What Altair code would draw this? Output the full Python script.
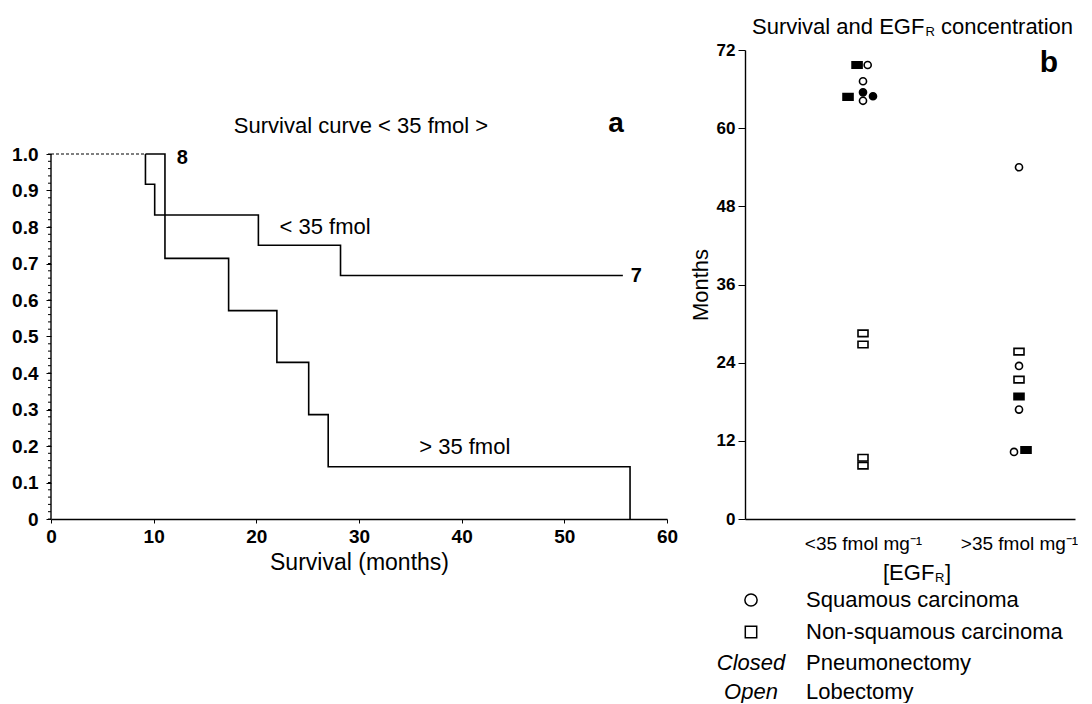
import altair as alt
import pandas as pd

FONT = "Liberation Sans"

# ---------------- Panel a: survival curves ----------------
pre_t = [0.0, 9.2]
pre_s = [1.0, 1.0]
low_t = [9.2, 9.2, 10.1, 20.2, 28.2, 55.7]
low_s = [1.0, 0.917, 0.833, 0.75, 0.667, 0.667]
high_t = [9.2, 11.1, 17.3, 22.0, 25.1, 27.0, 56.4, 56.4]
high_s = [1.0, 0.714, 0.571, 0.429, 0.286, 0.143, 0.143, 0.0]
y_major = [0.0, 0.1, 0.2, 0.3, 0.4, 0.5, 0.6, 0.7, 0.8, 0.9, 1.0]
y_minor = [round(i * 0.02, 2) for i in range(51)]
x_ticks_a = [0, 10, 20, 30, 40, 50, 60]

# ---------------- Panel b: survival vs EGFR ----------------
b_x = [0.962, 1.03, 1.0, 1.0, 0.904, 1.064, 1.0, 1.0, 1.0, 1.0, 1.0,
       2.0, 2.0, 2.0, 2.0, 2.0, 2.0, 1.968, 2.045]
b_months = [69.7, 69.7, 67.2, 65.5, 64.8, 64.9, 64.2, 28.5, 26.8, 9.4, 8.2,
            54.0, 25.7, 23.5, 21.4, 18.8, 16.8, 10.3, 10.6]
b_hist = ["N", "S", "S", "S", "N", "S", "S", "N", "N", "N", "N",
          "S", "N", "S", "N", "N", "S", "S", "N"]
b_surg = ["C", "O", "O", "C", "C", "C", "O", "O", "O", "O", "O",
          "O", "O", "O", "O", "C", "O", "O", "C"]
x_labels_b = ["<35 fmol mg\u207b\u00b9", ">35 fmol mg\u207b\u00b9"]
y_ticks_b = [0, 12, 24, 36, 48, 60, 72]
hist_names = {"S": "Squamous carcinoma", "N": "Non-squamous carcinoma"}
surg_names = {"C": "Pneumonectomy", "O": "Lobectomy"}

W_A, H = 616, 469
W_B = 330

one = pd.DataFrame({"k": [0]})

pre_df = pd.DataFrame({"t": pre_t, "s": pre_s})
low_df = pd.DataFrame({"t": low_t, "s": low_s, "i": list(range(len(low_t)))})
high_df = pd.DataFrame({"t": high_t, "s": high_s, "i": list(range(len(high_t)))})

xa = alt.Scale(domain=[0, 60], nice=False)
ya = alt.Scale(domain=[0, H / 365.0], nice=False)

x_axis_a = alt.Axis(values=x_ticks_a, tickSize=4, labelPadding=4, labelFontSize=19,
                    labelFontWeight="bold", labelColor="black", tickColor="black",
                    domainColor="black", domainWidth=1.4, grid=False,
                    title="Survival (months)", titleFontSize=23, titleFontWeight="normal",
                    titleColor="black", titlePadding=5, labelFlush=False)
y_axis_a = alt.Axis(values=y_major, labelExpr="datum.value == 0 ? '0' : format(datum.value, '.1f')",
                    domain=False, tickSize=5, tickColor="black", labelFontSize=19,
                    labelFontWeight="bold", labelColor="black", labelPadding=8,
                    grid=False, title=None)

low_line = alt.Chart(low_df).mark_line(interpolate="step-after", color="black", strokeWidth=1.6).encode(
    x=alt.X("t:Q", scale=xa, axis=x_axis_a),
    y=alt.Y("s:Q", scale=ya, axis=y_axis_a),
    order="i:Q",
)
high_line = alt.Chart(high_df).mark_line(interpolate="step-after", color="black", strokeWidth=1.6).encode(
    x=alt.X("t:Q", scale=xa), y=alt.Y("s:Q", scale=ya), order="i:Q"
)
pre_line = alt.Chart(pre_df).mark_line(color="black", strokeWidth=1.2, strokeDash=[3, 2]).encode(
    x=alt.X("t:Q", scale=xa), y=alt.Y("s:Q", scale=ya)
)
y_line = alt.Chart(one).mark_rule(color="black", strokeWidth=1.4).encode(
    x=alt.value(0), y=alt.datum(0.0, scale=ya), y2=alt.datum(1.0)
)
minor = alt.Chart(pd.DataFrame({"v": y_minor})).mark_rule(color="black", strokeWidth=1).encode(
    y=alt.Y("v:Q", scale=ya), x=alt.value(-3), x2=alt.value(0)
)

def txt(text, x, y, size=22, weight="normal", align="center", style="normal", dy=0):
    return alt.Chart(one).mark_text(text=text, fontSize=size, fontWeight=weight, align=align,
                                    baseline="middle", font=FONT, fontStyle=style, color="black",
                                    dy=dy).encode(x=x, y=y)

lab8 = txt("8", alt.datum(12.8), alt.datum(0.99), size=20, weight="bold")
lab7 = txt("7", alt.datum(57.0), alt.datum(0.667), size=20, weight="bold")
lab_low = txt("< 35 fmol", alt.datum(26.7), alt.datum(0.80))
lab_high = txt("> 35 fmol", alt.datum(40.3), alt.datum(0.197))
title_a = txt("Survival curve < 35 fmol >", alt.value(310), alt.value(76))
letter_a = txt("a", alt.value(565), alt.value(74), size=28, weight="bold")

panel_a = alt.layer(pre_line, low_line, high_line, y_line, minor,
                    lab8, lab7, lab_low, lab_high, title_a, letter_a).properties(width=W_A, height=H)

# ---------------- Panel b ----------------
b_df = pd.DataFrame({
    "x": b_x, "months": b_months,
    "hist": [hist_names[h] for h in b_hist],
    "surg": [surg_names[s] for s in b_surg],
})
xb = alt.Scale(domain=[1 - 118 / 156.0, 1 + (W_B - 118) / 156.0], nice=False)
yb = alt.Scale(domain=[0, 72], nice=False)
label_expr_b = f"datum.value == 1 ? '{x_labels_b[0]}' : '{x_labels_b[1]}'"
rect_path = "M-1,-0.65L1,-0.65L1,0.65L-1,0.65Z"

pts = alt.Chart(b_df).mark_point(filled=True, stroke="black", strokeWidth=1.6, opacity=1).encode(
    x=alt.X("x:Q", scale=xb, axis=alt.Axis(values=[1, 2], labelExpr=label_expr_b, ticks=False,
                                           labelPadding=15, labelFontSize=19, labelColor="black",
                                           domainColor="black", domainWidth=1.4, grid=False,
                                           title=None)),
    y=alt.Y("months:Q", scale=yb, axis=alt.Axis(values=y_ticks_b, tickSize=7, tickColor="black",
                                                labelPadding=3, labelFontSize=17,
                                                labelFontWeight="bold", labelColor="black",
                                                domainColor="black", domainWidth=1.4, grid=False,
                                                title="Months", titleFontSize=22,
                                                titleFontWeight="normal", titleColor="black",
                                                titlePadding=4)),
    shape=alt.Shape("hist:N", scale=alt.Scale(domain=["Squamous carcinoma", "Non-squamous carcinoma"],
                                              range=["circle", rect_path]), legend=None),
    size=alt.Size("hist:N", scale=alt.Scale(domain=["Squamous carcinoma", "Non-squamous carcinoma"],
                                            range=[50, 100]), legend=None),
    fill=alt.Fill("surg:N", scale=alt.Scale(domain=["Pneumonectomy", "Lobectomy"],
                                            range=["black", "white"]), legend=None),
)

title_b1 = txt("Survival and EGF", alt.value(7), alt.value(-23), align="left")
title_b2 = txt("R", alt.value(180.5), alt.value(-18), size=13, align="left")
title_b3 = txt("concentration", alt.value(196), alt.value(-23), align="left")
letter_b = txt("b", alt.value(304), alt.value(13), size=30, weight="bold")
xt1 = txt("[EGF", alt.value(138), alt.value(523), align="left")
xt2 = txt("R", alt.value(190), alt.value(528), size=13, align="left")
xt3 = txt("]", alt.value(200), alt.value(523), align="left")

sym_circle = alt.Chart(one).mark_point(shape="circle", size=150, stroke="black", strokeWidth=1.5,
                                       filled=False, opacity=1).encode(x=alt.value(6), y=alt.value(550))
sym_square = alt.Chart(one).mark_point(shape="square", size=130, stroke="black", strokeWidth=1.5,
                                       filled=False, opacity=1).encode(x=alt.value(6), y=alt.value(582))
leg1 = txt(hist_names["S"], alt.value(61), alt.value(550), align="left")
leg2 = txt(hist_names["N"], alt.value(61), alt.value(582), align="left")
leg3a = txt("Closed", alt.value(6), alt.value(613), style="italic")
leg3b = txt(surg_names["C"], alt.value(61), alt.value(613), align="left")
leg4a = txt("Open", alt.value(6), alt.value(642), style="italic")
leg4b = txt(surg_names["O"], alt.value(61), alt.value(642), align="left")

panel_b = alt.layer(pts, title_b1, title_b2, title_b3, letter_b, xt1, xt2, xt3,
                    sym_circle, sym_square, leg1, leg2, leg3a, leg3b, leg4a, leg4b
                    ).properties(width=W_B, height=H)

chart = alt.hconcat(panel_a, panel_b, spacing=78, bounds="flush").properties(
    padding={"left": 3, "top": 8, "right": 0, "bottom": 0}
).configure(font=FONT, view=alt.ViewConfig(stroke="transparent", strokeWidth=0))

chart.save("out.html", embed_options={"renderer": "svg", "actions": False})
